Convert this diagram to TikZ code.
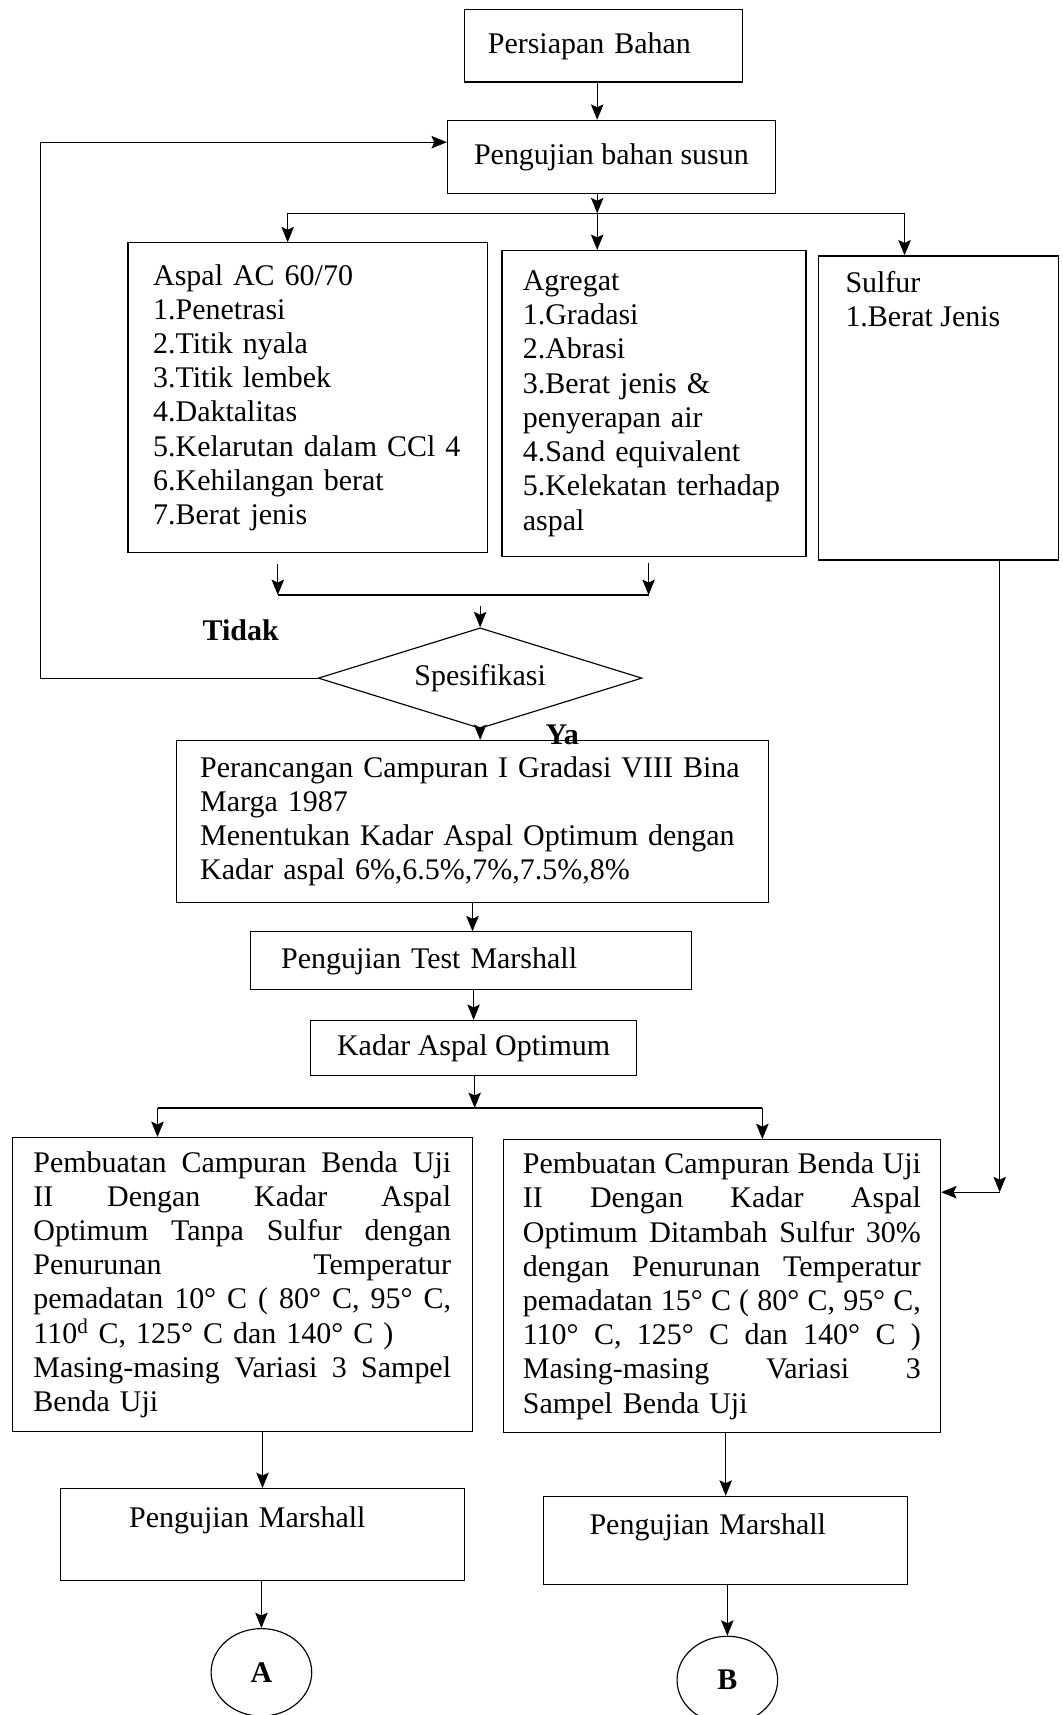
\documentclass[tikz,border=0pt]{standalone}
\usepackage{fontspec}
\setmainfont{Liberation Serif}
\usetikzlibrary{shapes, arrows.meta}
\newcommand{\penuh}[2]{{\spaceskip=0pt\xspaceskip=0pt\makebox[#1][s]{#2}}}

\begin{document}
\begin{tikzpicture}[x=0.02cm, y=-0.02cm, line width=0.6pt,
  font=\fontsize{15.6}{17.8}\selectfont,
  kotak/.style={draw, rectangle, inner ysep=0pt},
  tebal/.style={font=\fontsize{15.6}{17.8}\selectfont\bfseries},
  panah/.style={-{Stealth[length=8pt, width=6.5pt, inset=1.5pt]}}]
\useasboundingbox (0,0) rectangle (971,1568);

% kotak proses
\node[kotak, align=left, minimum width=5.08cm, minimum height=1.32cm, text width=4.24cm, inner xsep=0.42cm] (persiapan) at (552,42) {Persiapan Bahan};
\node[kotak, minimum width=6cm, minimum height=1.34cm] (pengujian) at (559,143.5) {Pengujian bahan susun};
\node[kotak, align=left, minimum width=6.58cm, minimum height=5.66cm, text width=5.66cm, inner xsep=0.46cm] (aspal) at (281.5,363.5)
  {Aspal AC 60/70\\1.Penetrasi\\2.Titik nyala\\3.Titik lembek\\4.Daktalitas\\5.Kelarutan dalam CCl 4\\6.Kehilangan berat\\7.Berat jenis};
\node[kotak, align=left, minimum width=5.56cm, minimum height=5.6cm, text width=4.8cm, inner xsep=0.38cm] (agregat) at (598,369)
  {Agregat\\1.Gradasi\\2.Abrasi\\3.Berat jenis \&\\penyerapan air\\4.Sand equivalent\\5.Kelekatan terhadap\\aspal};
\node[kotak, minimum width=4.4cm, minimum height=5.56cm, inner xsep=0.5cm, inner ysep=0.28cm] (sulfur) at (858,373)
  {\parbox[c][5cm][t]{3.4cm}{Sulfur\\1.Berat Jenis}};
\node[draw, diamond, aspect=3.2, minimum width=5.92cm, minimum height=1.84cm, inner sep=0pt] (spek) at (439,620) {Spesifikasi};
\node[tebal] (tidak) at (220,576) {Tidak};
\node[tebal] (ya) at (514,672) {Ya};
\node[kotak, align=left, minimum width=10.84cm, minimum height=2.96cm, text width=9.96cm, inner xsep=0.44cm] (perancangan) at (432,751)
  {Perancangan Campuran I Gradasi VIII Bina\\Marga 1987\\Menentukan Kadar Aspal Optimum dengan\\Kadar aspal 6\%,6.5\%,7\%,7.5\%,8\%};
\node[kotak, align=left, minimum width=8.06cm, minimum height=1.06cm, text width=6.94cm, inner xsep=0.56cm] (uji1) at (430.5,878.5) {Pengujian Test Marshall};
\node[kotak, minimum width=5.96cm, minimum height=1cm] (kao) at (433,958) {Kadar Aspal Optimum};
\node[kotak, align=left, minimum width=8.42cm, minimum height=5.38cm, text width=7.64cm, inner xsep=0.39cm] (buat1) at (221.5,1174.5)
  {\penuh{7.64cm}{Pembuatan Campuran Benda Uji}\\
   \penuh{7.64cm}{II Dengan Kadar Aspal}\\
   \penuh{7.64cm}{Optimum Tanpa Sulfur dengan}\\
   \penuh{7.64cm}{Penurunan Temperatur}\\
   \penuh{7.64cm}{pemadatan 10° C (  80° C, 95° C,}\\
   110\textsuperscript{d} C, 125° C dan 140° C )\\
   \penuh{7.64cm}{Masing-masing Variasi 3 Sampel}\\
   Benda Uji};
\node[kotak, align=left, minimum width=8cm, minimum height=5.36cm, text width=7.28cm, inner xsep=0.36cm] (buat2) at (660,1176)
  {\penuh{7.28cm}{Pembuatan Campuran Benda Uji}\\
   \penuh{7.28cm}{II Dengan Kadar Aspal}\\
   \penuh{7.28cm}{Optimum Ditambah Sulfur 30\%}\\
   \penuh{7.28cm}{dengan Penurunan Temperatur}\\
   \penuh{7.28cm}{pemadatan 15° C ( 80° C, 95° C,}\\
   \penuh{7.28cm}{110° C, 125° C dan 140° C )}\\
   \penuh{7.28cm}{Masing-masing Variasi 3}\\
   Sampel Benda Uji};
\node[kotak, align=left, minimum width=7.4cm, minimum height=1.68cm, text width=4.88cm, inner xsep=1.26cm, text height=0.4cm, text depth=0.64cm] (marsh1) at (240,1403) {Pengujian Marshall};
\node[kotak, align=left, minimum width=6.66cm, minimum height=1.62cm, text width=4.98cm, inner xsep=0.84cm, text height=0.4cm, text depth=0.62cm] (marsh2) at (663.5,1408.5) {Pengujian Marshall};
\node[draw, ellipse, minimum width=1.84cm, minimum height=1.6cm, inner sep=0pt, tebal] (lingA) at (239,1529) {A};
\node[draw, ellipse, minimum width=1.84cm, minimum height=1.6cm, inner sep=0pt, tebal] (lingB) at (665,1536) {B};

% titik cabang
\coordinate (cab1) at (546,195);
\coordinate (cab1a) at (263,195);
\coordinate (cab1c) at (827,195);
\coordinate (gab1a) at (254,544);
\coordinate (gab1b) at (593,544);
\coordinate (gab1) at (439,544);
\coordinate (balik) at (37,130);
\coordinate (cab2) at (434,1013);
\coordinate (cab2a) at (144,1013);
\coordinate (cab2b) at (697,1013);
\coordinate (sul) at (914,1090);

% panah
\draw[panah] (cab1 |- persiapan.south) -- (cab1 |- pengujian.north);
\draw[panah] (pengujian.south -| cab1) -- (cab1);
\draw (cab1a) -- (cab1c);
\draw[panah] (cab1a) -- (cab1a |- aspal.north);
\draw[panah] (cab1) -- (cab1 |- agregat.north);
\draw[panah] (cab1c) -- (cab1c |- sulfur.north);
\draw[panah, shorten <=0.2cm] (gab1a |- aspal.south) -- (gab1a);
\draw[panah, shorten <=0.1cm] (gab1b |- agregat.south) -- (gab1b);
\draw (gab1a) -- (gab1b);
\draw[panah, shorten <=0.2cm] (gab1) -- (spek.north);
\draw[thin, panah] (spek.west) -| (balik) -- (balik -| pengujian.west);
\draw[panah] (spek.south) -- (spek.south |- perancangan.north);
\draw[panah] (perancangan.south) -- (perancangan.south |- uji1.north);
\draw[panah] (uji1.south -| kao) -- (kao.north);
\draw[panah] (kao.south -| cab2) -- (cab2);
\draw (cab2a) -- (cab2b);
\draw[panah] (cab2a) -- (cab2a |- buat1.north);
\draw[panah] (cab2b) -- (cab2b |- buat2.north);
\draw[panah] (sul |- sulfur.south) -- (sul);
\draw[panah] (sul) -- (sul -| buat2.east);
\draw[panah] (buat1.south -| marsh1.north) -- (marsh1.north);
\draw[panah] (buat2.south -| marsh2.north) -- (marsh2.north);
\draw[panah] (marsh1.south -| lingA.north) -- (lingA.north);
\draw[panah] (marsh2.south -| lingB.north) -- (lingB.north);
\end{tikzpicture}
\end{document}
